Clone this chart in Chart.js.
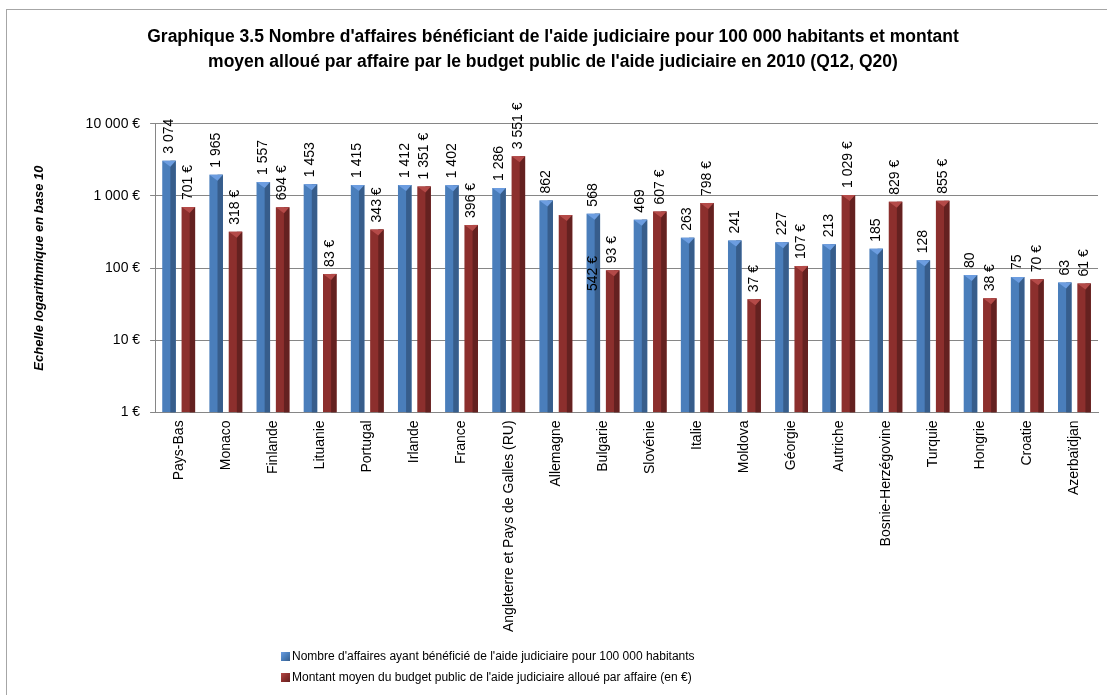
<!DOCTYPE html>
<html>
<head>
<meta charset="utf-8">
<script src="https://cdn.jsdelivr.net/npm/chart.js@4.4.0/dist/chart.umd.min.js"></script>
<style>
  body { margin: 0; background: #fff; font-family: "Liberation Sans", Arial, sans-serif; }
  #wrap { position: relative; width: 1107px; height: 695px; overflow: hidden; }
  #frame { position: absolute; left: 6px; top: 9px; width: 1200px; height: 800px;
           border-left: 1px solid #a6a6a6; border-top: 1px solid #a6a6a6; }
  #legend { position: absolute; left: 281px; top: 648px; font-size: 12px; color: #000; }
  #legend div { height: 21px; line-height: 17px; white-space: nowrap; }
  #legend span.box { display: inline-block; width: 9px; height: 9px; margin-right: 2px; vertical-align: -1px; }
</style>
</head>
<body>
<div id="wrap">
  <div id="frame"></div>
  <canvas id="chart" width="1107" height="695"></canvas>
  <div id="legend"></div>
</div>
<script>
// data
const countries = ['Pays-Bas', 'Monaco', 'Finlande', 'Lituanie', 'Portugal', 'Irlande', 'France',
  'Angleterre et Pays de Galles (RU)', 'Allemagne', 'Bulgarie', 'Slovénie', 'Italie', 'Moldova',
  'Géorgie', 'Autriche', 'Bosnie-Herzégovine', 'Turquie', 'Hongrie', 'Croatie', 'Azerbaïdjan'];
const casesPer100k = [3074, 1965, 1557, 1453, 1415, 1412, 1402, 1286, 862, 568, 469, 263, 241, 227, 213, 185, 128, 80, 75, 63];
const amountPerCase = [701, 318, 694, 83, 343, 1351, 396, 3551, 542, 93, 607, 798, 37, 107, 1029, 829, 855, 38, 70, 61];
const yTicks = [1, 10, 100, 1000, 10000];

const seriesNames = [
  "Nombre d'affaires ayant bénéficié de l'aide judiciaire pour 100 000 habitants",
  "Montant moyen du budget public de l'aide judiciaire alloué par affaire (en €)"
];
const titleLines = [
  "Graphique 3.5 Nombre d'affaires bénéficiant de l'aide judiciaire pour 100 000 habitants et montant",
  "moyen alloué par affaire par le budget public de l'aide judiciaire en 2010 (Q12, Q20)"
];

// face colours: main, shaded side, top cap
const shades = [
  { main: '#4a7ebb', side: '#375d8b', cap: '#6c9de0' },
  { main: '#8c2f2d', side: '#642120', cap: '#b44a48' }
];

const FONT = '"Liberation Sans", Arial, sans-serif';

function fmt(v) {
  return String(v).replace(/\B(?=(\d{3})+(?!\d))/g, ' ');
}

// the Allemagne amount label sits displaced in the original, over the Bulgarie bar
const labelMoves = { '1:8': { dataset: 0, index: 9, value: 48 } };

const bevelBars = {
  id: 'bevelBars',
  afterDatasetDraw(chart, args) {
    const ctx = chart.ctx;
    const meta = args.meta;
    const s = shades[args.index];
    ctx.save();
    meta.data.forEach(bar => {
      const p = bar.getProps(['x', 'y', 'base', 'width'], true);
      const l = p.x - p.width / 2, r = p.x + p.width / 2;
      const split = l + p.width * 0.6;
      ctx.fillStyle = s.side;
      ctx.fillRect(split, p.y, r - split, p.base - p.y);
      ctx.fillStyle = s.cap;
      ctx.beginPath();
      ctx.moveTo(l, p.y);
      ctx.lineTo(r, p.y);
      ctx.lineTo(split, p.y + 6);
      ctx.closePath();
      ctx.fill();
    });
    ctx.restore();
  }
};

const barLabels = {
  id: 'barLabels',
  afterDatasetsDraw(chart) {
    const ctx = chart.ctx;
    const yScale = chart.scales.y;
    ctx.save();
    ctx.font = '14px ' + FONT;
    ctx.fillStyle = '#000';
    ctx.textAlign = 'left';
    ctx.textBaseline = 'middle';
    chart.data.datasets.forEach((ds, di) => {
      chart.getDatasetMeta(di).data.forEach((bar, i) => {
        const v = ds.data[i];
        const txt = di === 0 ? fmt(v) : fmt(v) + ' €';
        let x = bar.x, y = bar.y - 7;
        const mv = labelMoves[di + ':' + i];
        if (mv) {
          x = chart.getDatasetMeta(mv.dataset).data[mv.index].x;
          y = yScale.getPixelForValue(mv.value);
        }
        ctx.save();
        ctx.translate(x, y);
        ctx.rotate(-Math.PI / 2);
        ctx.fillText(txt, 0, 0);
        ctx.restore();
      });
    });
    ctx.restore();
  }
};

new Chart(document.getElementById('chart'), {
  type: 'bar',
  data: {
    labels: countries,
    datasets: [
      { label: seriesNames[0], data: casesPer100k, backgroundColor: shades[0].main },
      { label: seriesNames[1], data: amountPerCase, backgroundColor: shades[1].main }
    ]
  },
  options: {
    responsive: false,
    animation: false,
    categoryPercentage: 0.82,
    barPercentage: 0.7,
    layout: { padding: { left: 8, right: 9, top: 0, bottom: 55 } },
    plugins: {
      legend: { display: false },
      tooltip: { enabled: false },
      title: {
        display: true,
        text: titleLines,
        color: '#000',
        font: { family: FONT, size: 17.5, weight: 'bold', lineHeight: 1.45 },
        padding: { top: 24, bottom: 49 }
      }
    },
    scales: {
      x: {
        grid: { display: false, drawTicks: false },
        border: { color: '#868686' },
        ticks: {
          color: '#000',
          font: { family: FONT, size: 14 },
          minRotation: 90, maxRotation: 90,
          padding: 8,
          autoSkip: false
        }
      },
      y: {
        type: 'logarithmic',
        min: yTicks[0],
        max: yTicks[yTicks.length - 1],
        afterBuildTicks(scale) {
          scale.ticks = yTicks.map(v => ({ value: v, major: true }));
        },
        grid: { color: '#868686', tickLength: 5 },
        border: { color: '#868686' },
        ticks: {
          color: '#000',
          font: { family: FONT, size: 14 },
          padding: 10,
          callback: v => fmt(v) + ' €'
        },
        title: {
          display: true,
          text: 'Echelle logarithmique en base 10',
          color: '#000',
          font: { family: FONT, size: 13, weight: 'bold', style: 'italic' },
          padding: { top: 24, bottom: 28 }
        }
      }
    }
  },
  plugins: [bevelBars, barLabels]
});

// legend under the chart, one series per line
const legend = document.getElementById('legend');
seriesNames.forEach((name, i) => {
  const row = document.createElement('div');
  const box = document.createElement('span');
  box.className = 'box';
  box.style.background = 'linear-gradient(135deg, ' + shades[i].cap + ' 0%, ' + shades[i].main + ' 50%, ' + shades[i].side + ' 100%)';
  row.appendChild(box);
  row.appendChild(document.createTextNode(name));
  legend.appendChild(row);
});
</script>
</body>
</html>
